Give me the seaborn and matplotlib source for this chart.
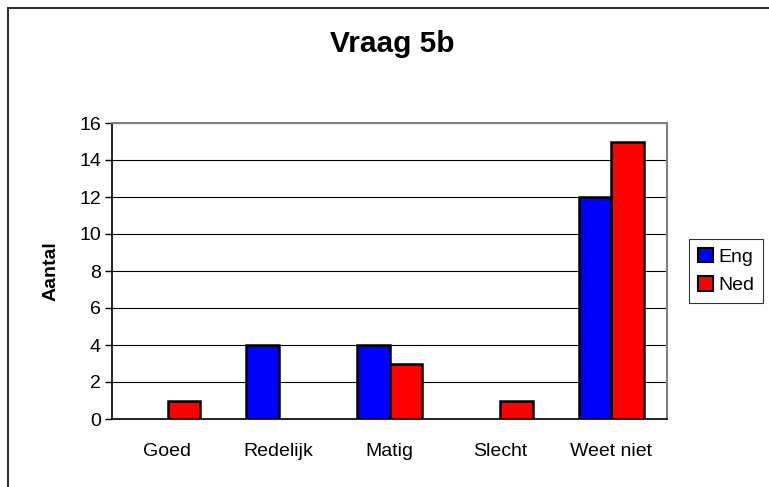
import matplotlib
matplotlib.use("Agg")
import matplotlib.pyplot as plt
from matplotlib.patches import Rectangle, Patch
import seaborn as sns
import pandas as pd

categories = ["Goed", "Redelijk", "Matig", "Slecht", "Weet niet"]
eng = [0, 4, 4, 0, 12]
ned = [1, 0, 3, 1, 15]
series_names = ["Eng", "Ned"]
series_colors = ["#0000FF", "#FF0000"]
y_ticks = [0, 2, 4, 6, 8, 10, 12, 14, 16]

sns.set_style("white")
plt.rcParams["font.family"] = ["Liberation Sans", "DejaVu Sans"]
plt.rcParams["text.color"] = "black"
plt.rcParams["axes.labelcolor"] = "black"
plt.rcParams["xtick.color"] = "black"
plt.rcParams["ytick.color"] = "black"

df = pd.DataFrame({
    "categorie": categories * 2,
    "aantal": eng + ned,
    "taal": [series_names[0]] * len(categories) + [series_names[1]] * len(categories),
})

fig = plt.figure(figsize=(7.69, 4.87), dpi=100)
ax = fig.add_axes([112 / 769, 1 - 419 / 487, 555 / 769, 296 / 487])

sns.barplot(data=df, x="categorie", y="aantal", hue="taal", order=categories,
            hue_order=series_names, palette=series_colors,
            width=0.577, edgecolor="black", linewidth=1.8, saturation=1,
            ax=ax, zorder=3, legend=False)

# Excel draws nothing for zero values
for bar in ax.patches:
    if bar.get_height() == 0:
        bar.set_visible(False)

ax.set_ylim(0, 16)
ax.set_xlim(-0.5, 4.5)
ax.set_yticks(y_ticks)
ax.set_yticklabels([str(t) for t in y_ticks], fontsize=14)
ax.yaxis.grid(True, color="black", linewidth=0.8, zorder=0)
ax.set_axisbelow(True)

# category labels without ticks, tick marks at the boundaries
ax.set_xticks(range(len(categories)))
ax.set_xticklabels(categories, fontsize=14)
ax.tick_params(axis="x", length=0, pad=17)
ax.set_xticks([i - 0.5 for i in range(len(categories) + 1)], minor=True)
ax.tick_params(axis="x", which="minor", length=5, width=1, color="black", direction="out")
ax.tick_params(axis="y", length=5, width=1, color="black", direction="out", left=True, pad=3)

ax.set_xlabel("")
ax.set_ylabel("Aantal", fontsize=14, fontweight="bold", labelpad=14)

for side in ["top", "right"]:
    ax.spines[side].set_color("#808080")
    ax.spines[side].set_linewidth(1.5)
for side in ["left", "bottom"]:
    ax.spines[side].set_color("black")
    ax.spines[side].set_linewidth(1.2)

fig.text(392 / 769, 1 - 44 / 487, "Vraag 5b", fontsize=21.5,
         fontweight="bold", ha="center", va="center")

handles = [Patch(facecolor=c, edgecolor="black", linewidth=1.5, label=n)
           for n, c in zip(series_names, series_colors)]
leg = ax.legend(handles=handles, loc="center left", bbox_to_anchor=(689 / 769, 1 - 271 / 487),
                bbox_transform=fig.transFigure, frameon=True, fancybox=False,
                fontsize=14, handlelength=0.8, handleheight=0.75, handletextpad=0.25,
                borderpad=0.45, labelspacing=0.55, borderaxespad=0)
leg.get_frame().set_edgecolor("black")
leg.get_frame().set_linewidth(0.8)

# outer chart border (cropped at right and bottom)
fig.patches.append(Rectangle((7.5 / 769, -0.1), 1.2, 1.1 - 7.5 / 487, transform=fig.transFigure,
                             fill=False, edgecolor="#333333", linewidth=1.5))

fig.savefig("out.png", dpi=100)
